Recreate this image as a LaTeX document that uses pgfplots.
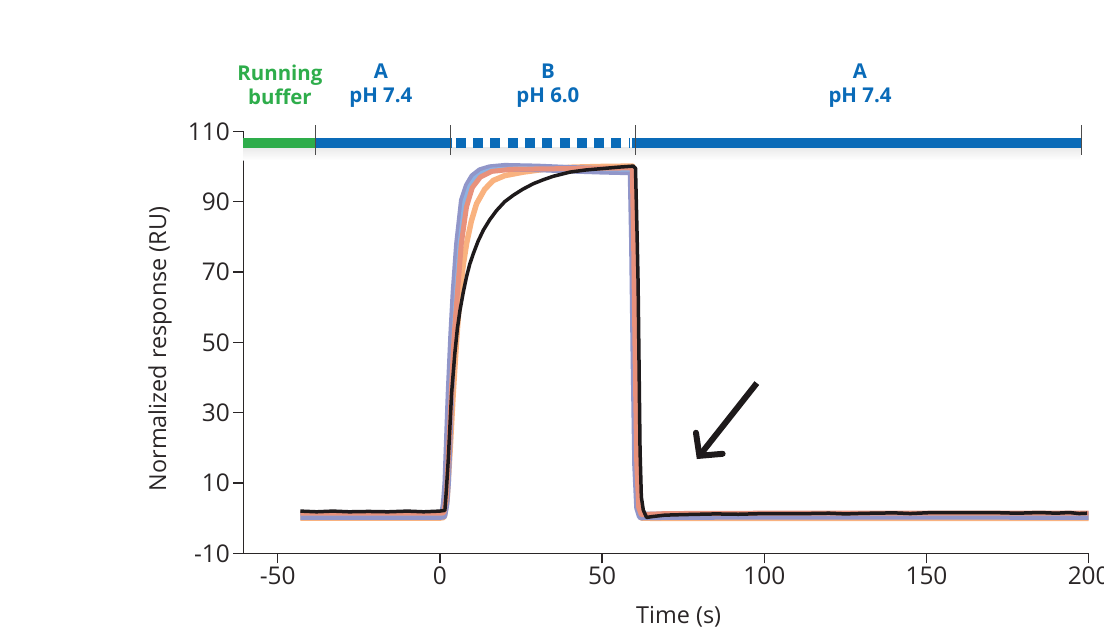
\documentclass[border=0pt]{standalone}
\usepackage{pgfplots}
\pgfplotsset{compat=1.18}
\usepackage{fontspec}
\setmainfont{Open Sans}
\usetikzlibrary{arrows.meta}
\definecolor{cpurple}{HTML}{9196C9}
\definecolor{cblue}{HTML}{8DB2E2}
\definecolor{csalmon}{HTML}{E8917C}
\definecolor{corange}{HTML}{F9B27F}
\definecolor{cblack}{HTML}{1E1A1B}
\definecolor{bargreen}{HTML}{2EAD4B}
\definecolor{barblue}{HTML}{0A6BB8}
\definecolor{axgray}{HTML}{2A2627}
\begin{document}
\begin{tikzpicture}
\useasboundingbox (0,0) rectangle (1104bp,631bp);
\begin{axis}[
  at={(243.3bp,77.7bp)}, anchor=south west,
  scale only axis, width=845.4bp, height=422bp,
  xmin=-60.6, xmax=200, ymin=-10, ymax=110,
  axis x line*=bottom, axis y line*=left,
  axis line style={-, line width=1.3bp, color=axgray},
  tick style={line width=1.3bp, color=axgray},
  tick align=outside, major tick length=10bp,
  xtick={-50,0,50,100,150,200},
  ytick={-10,10,30,50,70,90,110},
  /pgf/number format/assume math mode=true,
  ticklabel style={font=\fontsize{24.5}{27}\selectfont, text=axgray},
  label style={font=\fontsize{23.5}{26}\selectfont, text=axgray},
  xlabel={Time (s)},
  ylabel={Normalized response (RU)},
  xlabel style={at={(axis description cs:0.515,-0.151)}, anchor=center},
  ylabel style={at={(axis description cs:-0.0985,0.484)}, anchor=center},
  clip=false,
]
% shadow under phase bars
\fill[top color=black!8, bottom color=white, draw=none] (axis cs:-60.6,105.3) rectangle (axis cs:197.6,101.8);
% phase bars
\draw[bargreen, line width=10bp] (axis cs:-60.6,106.8) -- (axis cs:-38.5,106.8);
\draw[barblue, line width=10bp] (axis cs:-38.5,106.8) -- (axis cs:3.6,106.8);
\draw[barblue, line width=10bp, dash pattern=on 10bp off 7.3bp] (axis cs:4.9,106.8) -- (axis cs:58.6,106.8);
\draw[barblue, line width=10bp] (axis cs:59.2,106.8) -- (axis cs:197.6,106.8);
\draw[black!70, line width=0.8bp] (axis cs:-38.5,111.7) -- (axis cs:-38.5,103.2);
\draw[black!70, line width=0.8bp] (axis cs:3.2,111.7) -- (axis cs:3.2,103.2);
\draw[black!70, line width=0.8bp] (axis cs:60.4,111.7) -- (axis cs:60.4,103.2);
\draw[black!70, line width=0.8bp] (axis cs:197.6,111.7) -- (axis cs:197.6,103.2);
% phase labels
\node[text=bargreen, font=\fontsize{20.5}{24}\selectfont\bfseries, align=center] at (axis cs:-49.3,123.1) {Running\\buffer};
\node[text=barblue, font=\fontsize{20.5}{24}\selectfont\bfseries, align=center] at (axis cs:-18.2,123.1) {A\\pH 7.4};
\node[text=barblue, font=\fontsize{20.5}{24}\selectfont\bfseries, align=center] at (axis cs:33.3,123.1) {B\\pH 6.0};
\node[text=barblue, font=\fontsize{20.5}{24}\selectfont\bfseries, align=center] at (axis cs:129.5,123.1) {A\\pH 7.4};
% orange
\addplot[corange, line width=5.5bp, line join=round] coordinates {
(-43,0.0) (0,0.0) (1.3,0.2) (2.2,5) (3.2,20) (4.1,35.4) (5.1,50) (6.2,63.9) (7.2,72) (8.2,78) (9.7,84.5) (11.3,89.4) (13.8,93.5) (16.4,96) (20,97.4) (25.7,98.4) (33,99.3) (41,99.8) (50,100.0) (59.4,100.1) (59.8,80) (60.3,45) (60.8,15) (61.4,3) (62.2,0.0) (70,-0.1) (100,-0.1) (150,-0.1) (200,-0.1)
};
% purple
\addplot[cpurple, line width=8.5bp, line join=round] coordinates {
(-43,0.7) (-20,0.7) (0,0.7) (1.0,0.8) (1.6,4) (2.1,10) (3.1,35.5) (3.9,52) (4.6,63.9) (5.7,78) (7.2,90.4) (8.7,94.5) (10.3,97) (12.5,98.6) (15.4,99.4) (20,99.8) (30,99.6) (40,99.2) (50,98.9) (59.2,98.7) (59.6,80) (60.1,45) (60.6,15) (61.2,3) (62.0,0.6) (70,0.7) (100,0.8) (150,0.8) (200,0.7)
};
% light blue
\addplot[cblue, line width=3.5bp, line join=round] coordinates {
(-43,1.2) (0,1.2) (1.1,1.3) (1.8,5) (2.4,12) (3.3,36) (4.1,52) (4.9,64) (6.0,78) (7.5,90) (9.0,94.3) (10.8,96.8) (13,98.3) (16,99.2) (25,99.6) (40,99.3) (59.3,99.0) (59.7,80) (60.2,45) (60.7,15) (61.3,3) (62.1,1.0) (70,1.2) (100,1.2) (150,1.2) (200,1.2)
};
% salmon
\addplot[csalmon, line width=5bp, line join=round] coordinates {
(-43,1.4) (0,1.4) (1.2,1.5) (2.0,6) (3.5,35.5) (4.4,52) (5.4,64) (6.6,78) (8.2,88.5) (10,94) (12.5,97) (16,98.6) (22,99.2) (40,99.4) (59.3,99.6) (59.7,80) (60.2,45) (60.7,15) (61.3,3) (62.1,1.0) (70,1.3) (100,1.4) (150,1.4) (200,1.4)
};
% black
\addplot[cblack, line width=3.5bp, line join=round] coordinates {
(-43,2.0) (-38,1.8) (-33,2.0) (-28,1.8) (-22,1.9) (-16,1.8) (-10,2.0) (-5,1.8) (0,2.0) (1.54,2.2) (2.0,8) (2.57,16.5) (3.6,35.4) (4.6,46.8) (5.4,54) (6.2,59.1) (7.2,64.2) (8.2,68.6) (9.2,72.2) (10.3,75.2) (11.8,78.8) (13.4,81.9) (15.4,84.9) (17.5,87.5) (20,90.0) (22.6,91.8) (25.5,93.5) (28.8,95.1) (31.8,96.2) (34.9,97.2) (40.1,98.4) (45,99.0) (50,99.4) (55,99.8) (59.6,100.1) (60.3,99.5) (60.8,80) (61.1,66.7) (61.7,19.3) (62.1,6) (62.7,2.3) (63.7,0.2) (66,0.5) (69.4,0.85) (75,1.0) (85,1.2) (92,1.1) (100,1.3) (110,1.25) (120,1.4) (125,1.2) (130,1.35) (140,1.5) (145,1.3) (152,1.6) (160,1.55) (170,1.6) (178,1.4) (185,1.6) (190,1.4) (194,1.6) (197,1.3) (199.5,1.4)
};
% arrow
\draw[cblack, line width=6bp, line cap=butt, -{Straight Barb[length=16bp,width=34bp,line cap=round]}] (axis cs:97.7,38.4) -- (axis cs:79.2,16.8);
\end{axis}
\end{tikzpicture}
\end{document}
